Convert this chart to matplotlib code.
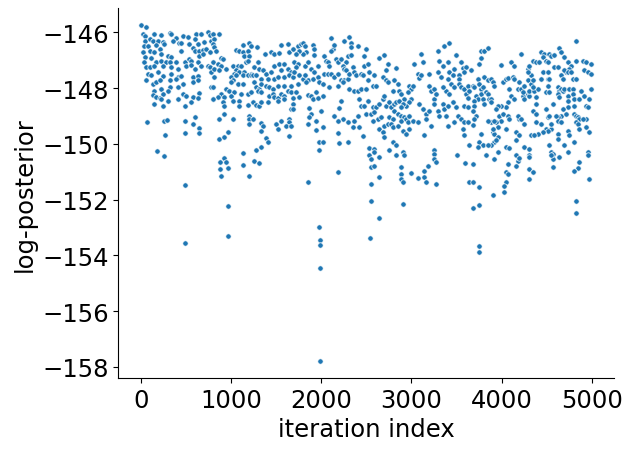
import matplotlib
matplotlib.use("Agg")
import matplotlib.pyplot as plt

# MCMC trace: (iteration index, log-posterior)
iters_0 = [4, 59, 22, 41, 151, 225, 318, 336, 391, 465, 521, 613, 668, 742, 761, 41, 96, 133, 188, 244,
           355, 428, 447, 539, 595, 632, 705, 779, 33, 78, 170, 207, 262, 22, 96, 151, 225, 299, 336, 447,
           576, 595, 650, 687, 724, 761, 41, 115, 170, 225, 281, 318, 391, 484, 539, 558, 632, 650, 687, 33,
           59, 96, 151, 244, 336, 410, 502, 558, 595, 668, 742, 761, 779, 78, 115, 188, 244, 336, 410, 447,
           576, 632, 59, 133, 170, 207, 318, 391, 465, 576, 632, 151, 225, 318, 410, 133, 170, 207, 244, 299,
           465, 502, 576, 650, 779, 225, 299, 410, 558, 632, 798, 151, 244, 484, 70, 262, 292, 484, 595, 576,
           650, 270, 484, 650, 181, 262, 484, 491, 968]
logp_0 = [-145.74, -145.82, -146.06, -146.12, -146.06, -146.10, -146.02, -146.06, -146.22, -146.14,
          -146.18, -146.06, -146.06, -146.00, -146.10, -146.30, -146.24, -146.30, -146.33, -146.36,
          -146.30, -146.38, -146.38, -146.42, -146.26, -146.42, -146.36, -146.30, -146.48, -146.48,
          -146.45, -146.60, -146.42, -146.72, -146.66, -146.72, -146.78, -146.86, -146.90, -146.66,
          -146.57, -146.69, -146.66, -146.62, -146.60, -146.72, -146.90, -146.93, -147.05, -147.02,
          -147.08, -147.05, -147.05, -147.08, -146.96, -147.02, -147.05, -146.86, -146.78, -147.08,
          -147.25, -147.25, -147.20, -147.20, -147.25, -147.31, -147.20, -147.17, -147.31, -147.20,
          -147.20, -147.25, -147.43, -147.49, -147.55, -147.43, -147.58, -147.49, -147.61, -147.58,
          -147.61, -147.58, -147.73, -147.85, -147.77, -147.73, -147.73, -147.67, -147.85, -147.79,
          -147.73, -148.09, -148.03, -147.97, -147.97, -148.25, -148.33, -148.37, -148.21, -148.09,
          -148.21, -148.27, -148.33, -148.17, -147.97, -148.39, -148.45, -148.39, -148.49, -148.37,
          -148.39, -148.57, -148.65, -148.65, -149.23, -149.17, -149.14, -149.19, -149.05, -149.29,
          -149.44, -149.67, -149.61, -149.62, -150.27, -150.45, -151.47, -153.56, -153.31]

iters_1 = [797, 816, 871, 797, 816, 834, 1130, 1204, 1222, 1056, 1093, 1130, 1185, 1289, 1148, 1204, 1444,
           1481, 1536, 1554, 1628, 1647, 1381, 890, 908, 797, 853, 890, 816, 871, 816, 945, 1019, 1074,
           1111, 1056, 1037, 1093, 1148, 1167, 1185, 1222, 1296, 1259, 1314, 1351, 1388, 1444, 1481, 1536,
           1591, 1554, 1628, 1665, 1001, 1019, 1056, 1130, 1185, 1222, 1241, 1277, 1333, 1407, 1481, 1518,
           1591, 1647, 1001, 1074, 1130, 1259, 1277, 1314, 1333, 1388, 1425, 1462, 1518, 1591, 1628, 1665,
           797, 945, 982, 1037, 1001, 890, 853, 797, 927, 1019, 1093, 1111, 1185, 1222, 1296, 1333, 1425,
           1462, 1481, 1518, 1554, 1591, 1665, 908, 927, 1093, 1185, 1241, 1277, 1314, 1333, 1407, 1518,
           1591, 1665, 871, 927, 1019, 1204, 1204, 1241, 1204, 1333, 1351, 1333, 1499, 1518, 1554, 1647,
           1647, 1610, 1665, 871, 927, 964, 1388, 1407, 1333, 1647, 1130, 1277, 927, 945, 882, 1259, 1314,
           1130, 964, 882, 890, 1204, 964]
logp_1 = [-146.06, -146.24, -146.06, -146.42, -146.54, -146.66, -146.45, -146.38, -146.48, -146.62,
          -146.69, -146.72, -146.66, -146.54, -146.84, -146.84, -146.72, -146.78, -146.74, -146.45,
          -146.42, -146.72, -146.78, -146.93, -146.96, -147.08, -147.14, -147.20, -147.31, -147.37,
          -147.61, -147.31, -147.20, -147.22, -147.20, -147.37, -147.49, -147.43, -147.43, -147.08,
          -147.02, -147.49, -147.05, -147.25, -147.31, -147.37, -147.49, -147.43, -147.20, -147.14,
          -147.14, -147.37, -147.31, -147.43, -147.61, -147.73, -147.55, -147.55, -147.53, -147.55,
          -147.53, -147.55, -147.67, -147.67, -147.67, -147.61, -147.61, -147.55, -147.79, -147.85,
          -147.85, -147.77, -147.97, -148.03, -147.85, -147.91, -147.97, -148.03, -147.91, -147.91,
          -148.09, -147.91, -147.97, -148.03, -148.09, -148.13, -148.27, -148.21, -148.33, -148.39,
          -148.33, -148.45, -148.45, -148.21, -148.21, -148.15, -148.09, -148.15, -148.27, -148.21,
          -148.33, -148.37, -148.21, -148.27, -148.13, -148.51, -148.65, -148.65, -148.61, -148.49,
          -148.61, -148.63, -148.51, -148.49, -148.45, -148.39, -148.75, -149.11, -148.93, -149.11,
          -148.99, -149.11, -149.11, -149.29, -149.25, -149.37, -149.53, -149.29, -149.47, -149.17,
          -149.11, -149.23, -149.35, -149.35, -149.82, -149.76, -149.59, -149.80, -149.94, -150.12,
          -149.73, -150.33, -150.22, -150.52, -150.66, -150.64, -150.60, -150.68, -150.76, -150.88,
          -150.92, -151.14, -151.14, -152.24]

iters_2 = [1684, 1740, 1777, 1795, 1814, 1832, 1795, 1758, 1721, 1906, 1924, 1917, 2109, 2128, 2109, 2146,
           2257, 2312, 2331, 2331, 2294, 2331, 2405, 2497, 2478, 1703, 1740, 1721, 1814, 1851, 1888, 1924,
           1961, 2035, 2054, 2072, 2091, 2165, 2183, 2220, 2275, 2238, 2257, 2275, 2349, 2478, 2515, 2534,
           1684, 1703, 1758, 1795, 1814, 1851, 1906, 1961, 1980, 2035, 2072, 2109, 2146, 2183, 2220, 2257,
           2294, 2312, 2368, 2386, 2442, 2460, 2515, 1740, 1832, 2017, 2091, 2183, 2238, 2312, 2368, 2405,
           2442, 2497, 2571, 1721, 1684, 1684, 1684, 1758, 1851, 1888, 1906, 1943, 1961, 2017, 1869, 1888,
           1869, 1943, 1998, 1851, 1943, 2017, 2146, 2201, 2220, 2238, 2183, 2294, 2349, 2368, 2405, 2423,
           2442, 2478, 2515, 2497, 2552, 2423, 2460, 2183, 2294, 1980, 2017, 1980, 2201, 2534, 2534, 2552,
           2552, 2183, 1851, 2552, 2552, 1976, 1987, 1987, 1987, 1987, 2541]
logp_2 = [-146.60, -146.48, -146.42, -146.38, -146.48, -146.72, -146.78, -146.66, -146.78, -146.45,
          -146.60, -146.81, -146.22, -146.60, -146.69, -146.45, -146.33, -146.18, -146.38, -146.54,
          -146.84, -146.81, -146.50, -146.60, -146.86, -147.08, -147.14, -147.25, -147.20, -147.08,
          -147.31, -147.43, -147.20, -146.84, -147.02, -147.08, -147.20, -146.96, -147.08, -146.96,
          -147.08, -147.20, -147.31, -147.37, -147.25, -147.20, -147.14, -147.43, -147.61, -147.43,
          -147.55, -147.67, -147.55, -147.73, -147.67, -147.61, -147.79, -147.49, -147.49, -147.49,
          -147.61, -147.49, -147.73, -147.73, -147.67, -147.49, -147.43, -147.55, -147.49, -147.55,
          -147.73, -147.85, -147.79, -147.85, -147.97, -147.91, -147.79, -148.03, -148.09, -148.09,
          -148.03, -148.03, -147.91, -148.15, -148.37, -148.57, -148.75, -148.33, -148.25, -148.29,
          -148.39, -148.15, -148.37, -148.29, -148.72, -148.93, -149.05, -149.17, -148.84, -149.29,
          -149.49, -149.41, -149.01, -148.72, -148.45, -149.11, -149.17, -149.23, -149.41, -149.17,
          -148.99, -148.39, -148.65, -148.63, -148.45, -148.93, -148.93, -149.41, -149.73, -149.62,
          -149.92, -149.92, -149.92, -150.22, -149.97, -150.16, -150.42, -150.54, -150.84, -151.02,
          -151.38, -151.44, -152.07, -152.99, -153.46, -153.63, -154.46, -157.79, -153.38]

iters_3 = [2644, 2700, 2737, 2718, 2829, 3032, 3106, 3124, 3069, 3087, 3106, 3198, 3291, 3364, 3420, 3309,
           3346, 3401, 3420, 3291, 3327, 3401, 3438, 2589, 2607, 2681, 2718, 2737, 2810, 2847, 2792, 2866,
           2884, 2921, 2977, 2995, 3014, 2958, 2995, 2977, 2940, 2570, 2607, 2644, 2681, 2700, 2718, 2755,
           2774, 2810, 2829, 2866, 2903, 2884, 2810, 2847, 2884, 2921, 2589, 2626, 2663, 2755, 2792, 2700,
           2737, 2644, 2681, 2774, 2792, 2847, 2884, 2940, 2977, 2958, 3014, 3069, 2977, 2903, 2940, 2570,
           3087, 3124, 3161, 3198, 3161, 3217, 3198, 3217, 3254, 3254, 3272, 3254, 3291, 3309, 3346, 3364,
           3401, 3383, 3401, 3383, 3420, 3346, 3143, 2700, 2792, 2829, 2755, 2589, 2589, 2644, 2829, 2903,
           2921, 2884, 2884, 2884, 2903, 2589, 2644, 2995, 3069, 3143, 3180, 3143, 3161, 3254, 3254, 3254,
           3272, 3272, 2903, 2644]
logp_3 = [-146.93, -146.81, -147.14, -147.34, -147.29, -147.14, -146.78, -147.08, -147.49, -147.65,
          -147.55, -147.49, -146.66, -146.48, -146.38, -147.02, -147.20, -147.08, -147.43, -147.43,
          -147.61, -147.67, -147.85, -147.55, -147.91, -147.61, -147.73, -147.79, -147.73, -147.85,
          -148.09, -148.09, -148.21, -148.39, -147.91, -148.03, -147.91, -148.15, -148.39, -148.51,
          -148.63, -148.69, -148.69, -148.57, -148.39, -148.27, -148.63, -148.51, -148.69, -148.57,
          -148.51, -148.45, -148.57, -148.69, -148.81, -148.93, -148.99, -149.05, -148.87, -149.11,
          -149.05, -149.05, -149.11, -149.35, -149.29, -149.47, -149.59, -149.29, -149.41, -149.35,
          -149.17, -149.11, -148.99, -149.23, -149.17, -149.23, -149.47, -149.53, -149.64, -149.17,
          -148.57, -148.75, -148.93, -148.81, -149.11, -149.35, -147.91, -148.09, -148.03, -148.39,
          -148.21, -148.57, -148.81, -148.99, -148.57, -148.75, -148.63, -148.99, -149.35, -148.09,
          -148.21, -147.97, -149.70, -149.76, -149.94, -150.06, -150.24, -150.18, -150.30, -150.48,
          -150.42, -150.30, -150.42, -150.84, -151.08, -151.26, -151.38, -150.78, -151.20, -151.04,
          -151.23, -150.96, -150.78, -151.20, -151.38, -150.24, -150.36, -150.54, -150.66, -151.44,
          -152.15, -152.67]

iters_4 = [3493, 3549, 3475, 3567, 3604, 3660, 3586, 3456, 3530, 3530, 3530, 3475, 3549, 3586, 3623, 3604,
           3641, 3678, 3696, 3733, 3752, 3770, 3789, 3807, 3844, 3881, 3900, 3918, 3770, 3715, 3733, 3696,
           3623, 3789, 3826, 3844, 3863, 3881, 3807, 3881, 3456, 3493, 3586, 3623, 3696, 3678, 3715, 3512,
           3549, 3586, 3475, 3623, 3678, 3567, 3586, 3641, 3696, 3770, 3752, 3770, 3807, 3844, 3992, 4010,
           4047, 4066, 4121, 4140, 4084, 4177, 4213, 4103, 4140, 4066, 4047, 3992, 3955, 3937, 3973, 4010,
           4066, 4084, 3992, 3937, 3955, 3900, 3918, 3955, 3918, 3881, 3937, 4047, 4195, 4177, 4213, 4250,
           4158, 4195, 4158, 4250, 4324, 4306, 4306, 4232, 4250, 4287, 4306, 4306, 4232, 4195, 4250, 4287,
           4324, 4324, 4287, 4306, 4213, 4103, 4140, 4287, 3881, 3900, 3844, 3918, 3770, 3752, 3789, 3844,
           3733, 3826, 3918, 3955, 4047, 4084, 4066, 4047, 4066, 4158, 4177, 4158, 4195, 4306, 4306, 4306,
           3504, 3593, 3678, 3641, 3678, 3752, 4047, 4029, 4029, 3900, 3752, 3678, 3748, 3748]
logp_4 = [-146.81, -147.08, -147.31, -147.29, -147.25, -147.37, -147.43, -147.55, -147.55, -147.67,
          -147.85, -147.97, -147.97, -148.03, -147.91, -148.21, -148.09, -147.91, -147.97, -147.67,
          -147.85, -148.03, -147.97, -147.61, -147.73, -147.67, -147.79, -147.91, -148.21, -148.27,
          -148.39, -148.45, -148.37, -148.39, -148.15, -148.21, -148.39, -148.39, -148.57, -148.51,
          -148.51, -148.69, -148.63, -148.69, -148.63, -148.81, -148.99, -148.99, -149.11, -149.23,
          -149.23, -149.23, -149.32, -149.47, -149.70, -150.06, -149.11, -146.93, -147.14, -146.69,
          -146.66, -146.57, -147.17, -147.79, -147.67, -147.65, -147.61, -147.67, -148.03, -148.03,
          -148.03, -148.27, -148.39, -148.51, -148.69, -148.63, -148.65, -148.75, -148.99, -148.93,
          -148.99, -149.11, -149.17, -149.23, -149.41, -149.59, -149.64, -149.76, -149.94, -150.06,
          -149.88, -149.47, -149.11, -148.99, -149.11, -149.29, -149.59, -149.70, -149.88, -150.12,
          -149.70, -150.18, -150.42, -148.27, -148.39, -148.21, -148.27, -148.09, -148.15, -147.79,
          -147.91, -147.73, -147.55, -147.85, -147.31, -147.20, -146.78, -147.05, -147.20, -147.43,
          -149.23, -149.47, -149.17, -149.17, -149.64, -149.94, -150.06, -150.06, -150.12, -150.42,
          -150.54, -150.30, -150.12, -150.16, -150.72, -151.00, -151.08, -150.42, -150.60, -150.78,
          -150.52, -150.48, -150.90, -151.26, -150.40, -150.68, -150.72, -151.38, -151.38, -151.56,
          -151.38, -151.50, -151.74, -151.83, -152.19, -152.31, -153.67, -153.89]

iters_5 = [4823, 4639, 4657, 4694, 4436, 4473, 4454, 4528, 4547, 4583, 4491, 4510, 4583, 4620, 4343, 4380,
           4417, 4731, 4768, 4750, 4823, 4897, 4934, 4990, 4916, 4953, 4995, 4713, 4694, 4731, 4768, 4787,
           4823, 4657, 4676, 4436, 4510, 4528, 4343, 4454, 4510, 4362, 4399, 4343, 4380, 4510, 4491, 4528,
           4620, 4639, 4657, 4620, 4676, 4694, 4750, 4787, 4731, 4787, 4639, 4731, 4805, 4860, 4879, 4916,
           4971, 4990, 4934, 4805, 4731, 4676, 4657, 4713, 4620, 4602, 4491, 4565, 4510, 4528, 4380, 4343,
           4380, 4380, 4436, 4491, 4547, 4510, 4547, 4454, 4399, 4362, 4620, 4657, 4805, 4823, 4842, 4860,
           4823, 4842, 4860, 4934, 4934, 4971, 4897, 4731, 4750, 4620, 4620, 4953, 4805, 4694, 4731, 4528,
           4547, 4565, 4565, 4547, 4639, 4565, 4343, 4953, 4953, 4860, 4842, 4805, 4971, 4823, 4823]
logp_5 = [-146.33, -146.57, -146.72, -146.90, -146.72, -146.78, -146.90, -146.78, -146.84, -146.81,
          -147.02, -147.05, -147.25, -147.25, -147.02, -147.08, -147.08, -147.08, -147.20, -147.31,
          -147.02, -147.02, -147.08, -147.14, -147.37, -147.43, -147.49, -147.43, -147.37, -147.43,
          -147.41, -147.67, -147.67, -147.55, -147.67, -147.67, -147.67, -147.67, -147.73, -147.43,
          -147.43, -148.09, -148.03, -147.97, -148.33, -147.91, -148.15, -148.15, -147.97, -148.09,
          -148.03, -148.21, -148.09, -148.03, -148.03, -148.03, -148.27, -148.21, -148.33, -148.45,
          -148.39, -148.39, -148.09, -148.27, -148.39, -148.03, -148.63, -148.63, -148.69, -148.75,
          -148.99, -148.93, -149.05, -148.99, -148.75, -148.57, -149.05, -148.99, -148.57, -148.81,
          -148.93, -149.23, -149.29, -149.47, -149.47, -149.53, -149.29, -149.59, -149.64, -149.70,
          -149.17, -149.23, -148.93, -148.99, -149.05, -149.11, -149.23, -149.29, -149.47, -149.11,
          -149.41, -149.59, -149.11, -149.53, -149.70, -149.64, -149.82, -148.69, -149.94, -150.06,
          -150.30, -150.06, -150.30, -150.36, -150.54, -150.42, -150.48, -150.84, -151.00, -150.30,
          -150.40, -150.64, -150.88, -150.96, -151.26, -152.07, -152.48]

iteration = iters_0 + iters_1 + iters_2 + iters_3 + iters_4 + iters_5
log_posterior = logp_0 + logp_1 + logp_2 + logp_3 + logp_4 + logp_5

plt.rcParams['font.size'] = 17.5
fig = plt.figure(figsize=(6.33, 4.52), dpi=100)
ax = fig.add_axes([0.1869, 0.1615, 0.7831, 0.818])
ax.scatter(iteration, log_posterior, s=15, color='#1f77b4', edgecolor='white', linewidth=0.5)
ax.set_xlim(-250, 5245)
ax.set_ylim(-158.4, -145.14)
ax.set_xticks([0, 1000, 2000, 3000, 4000, 5000])
ax.set_yticks([-158, -156, -154, -152, -150, -148, -146])
ax.set_xlabel('iteration index')
ax.set_ylabel('log-posterior')
ax.spines['top'].set_visible(False)
ax.spines['right'].set_visible(False)
fig.savefig('out.png', dpi=100)
